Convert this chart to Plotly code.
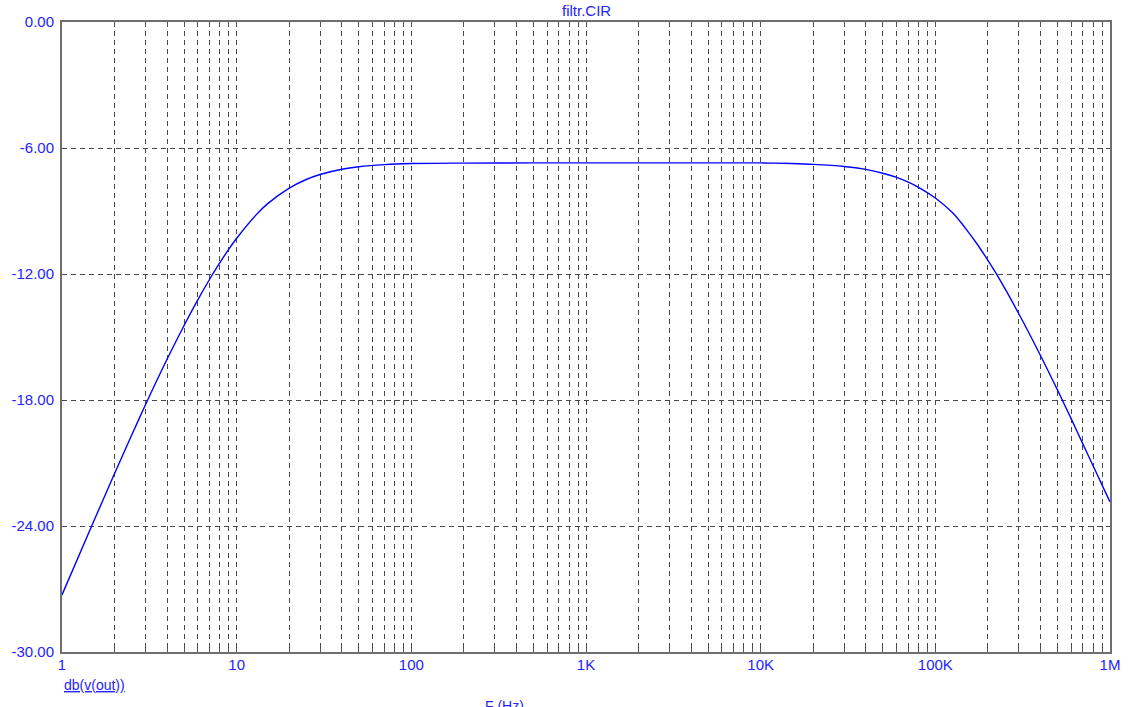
import plotly.graph_objects as go

# Frequency response
freq_hz = [1, 1.5, 2, 2.5, 3, 4, 5, 6, 7, 8, 9, 10, 13, 15, 20, 25, 30, 40, 50,
           70, 100, 200, 500, 1000, 2000, 5000, 10000, 15000, 20000, 30000,
           40000, 50000, 60000, 70000, 80000, 100000, 126000, 150000, 173000,
           200000, 225000, 300000, 400000, 500000, 600000, 700000, 800000,
           900000, 1000000]
db_vout = [-27.28, -23.88, -21.5, -19.69, -18.24, -16.05, -14.45, -13.22,
           -12.25, -11.47, -10.83, -10.3, -9.16, -8.66, -7.91, -7.5, -7.26,
           -7.01, -6.89, -6.79, -6.74, -6.72, -6.71, -6.71, -6.71, -6.71,
           -6.71, -6.74, -6.78, -6.88, -7.02, -7.2, -7.4, -7.63, -7.87, -8.38,
           -9.1, -9.86, -10.56, -11.35, -12.03, -13.88, -15.88, -17.52, -18.9,
           -20.1, -21.13, -22.04, -22.85]

decade_labels = {1: "1", 10: "10", 100: "100", 1000: "1K", 10000: "10K",
                 100000: "100K", 1000000: "1M"}
x_tickvals = []
x_ticktext = []
for d in [1, 10, 100, 1000, 10000, 100000]:
    for m in range(1, 10):
        v = d * m
        x_tickvals.append(v)
        x_ticktext.append(decade_labels.get(v, ""))
x_tickvals.append(1000000)
x_ticktext.append("1M")

y_tickvals = [0, -6, -12, -18, -24, -30]
y_ticktext = ["0.00", "-6.00", "-12.00", "-18.00", "-24.00", "-30.00"]

label_color = "#2424ff"
grid_color = "#484848"
font_family = "Liberation Sans, Arial, sans-serif"

fig = go.Figure()
fig.add_trace(go.Scatter(
    x=freq_hz, y=db_vout, mode="lines",
    line=dict(color="#0000ff", width=1.4, shape="spline", smoothing=0.8),
    showlegend=False, hoverinfo="skip",
))

fig.update_xaxes(
    type="log", range=[0, 6],
    tickvals=x_tickvals, ticktext=x_ticktext,
    showgrid=True, gridcolor=grid_color, gridwidth=1, griddash="5px,4px",
    showline=True, linecolor="#6e6e6e", linewidth=2, mirror="allticks",
    ticks="inside", ticklen=4, tickcolor="#555555", tickwidth=1,
    ticklabelstandoff=-2,
    tickfont=dict(family=font_family, size=15, color=label_color),
    zeroline=False,
)
fig.update_yaxes(
    range=[-30, 0],
    tickvals=y_tickvals, ticktext=y_ticktext,
    showgrid=True, gridcolor=grid_color, gridwidth=1, griddash="5px,4px",
    showline=True, linecolor="#6e6e6e", linewidth=2, mirror=True,
    ticks="", ticklabelstandoff=3,
    tickfont=dict(family=font_family, size=15, color=label_color),
    zeroline=False,
)

fig.update_layout(
    width=1132, height=707,
    margin=dict(l=62, r=22, t=22, b=55),
    paper_bgcolor="white", plot_bgcolor="white",
    font=dict(family=font_family, color=label_color),
    annotations=[
        dict(text="filtr.CIR", xref="paper", yref="paper", x=0.5, y=1.0,
             xanchor="center", yanchor="bottom", yshift=1, showarrow=False,
             font=dict(family=font_family, size=15, color=label_color)),
        dict(text="<u>db(v(out))</u>", xref="paper", yref="paper", x=0, y=-0.052,
             xanchor="left", yanchor="middle", showarrow=False,
             font=dict(family=font_family, size=14, color=label_color)),
        dict(text="F (Hz)", xref="paper", yref="paper", x=0.4218, y=-0.07,
             xanchor="center", yanchor="top", showarrow=False,
             font=dict(family=font_family, size=14, color=label_color)),
    ],
)

fig.write_html("out.html")
